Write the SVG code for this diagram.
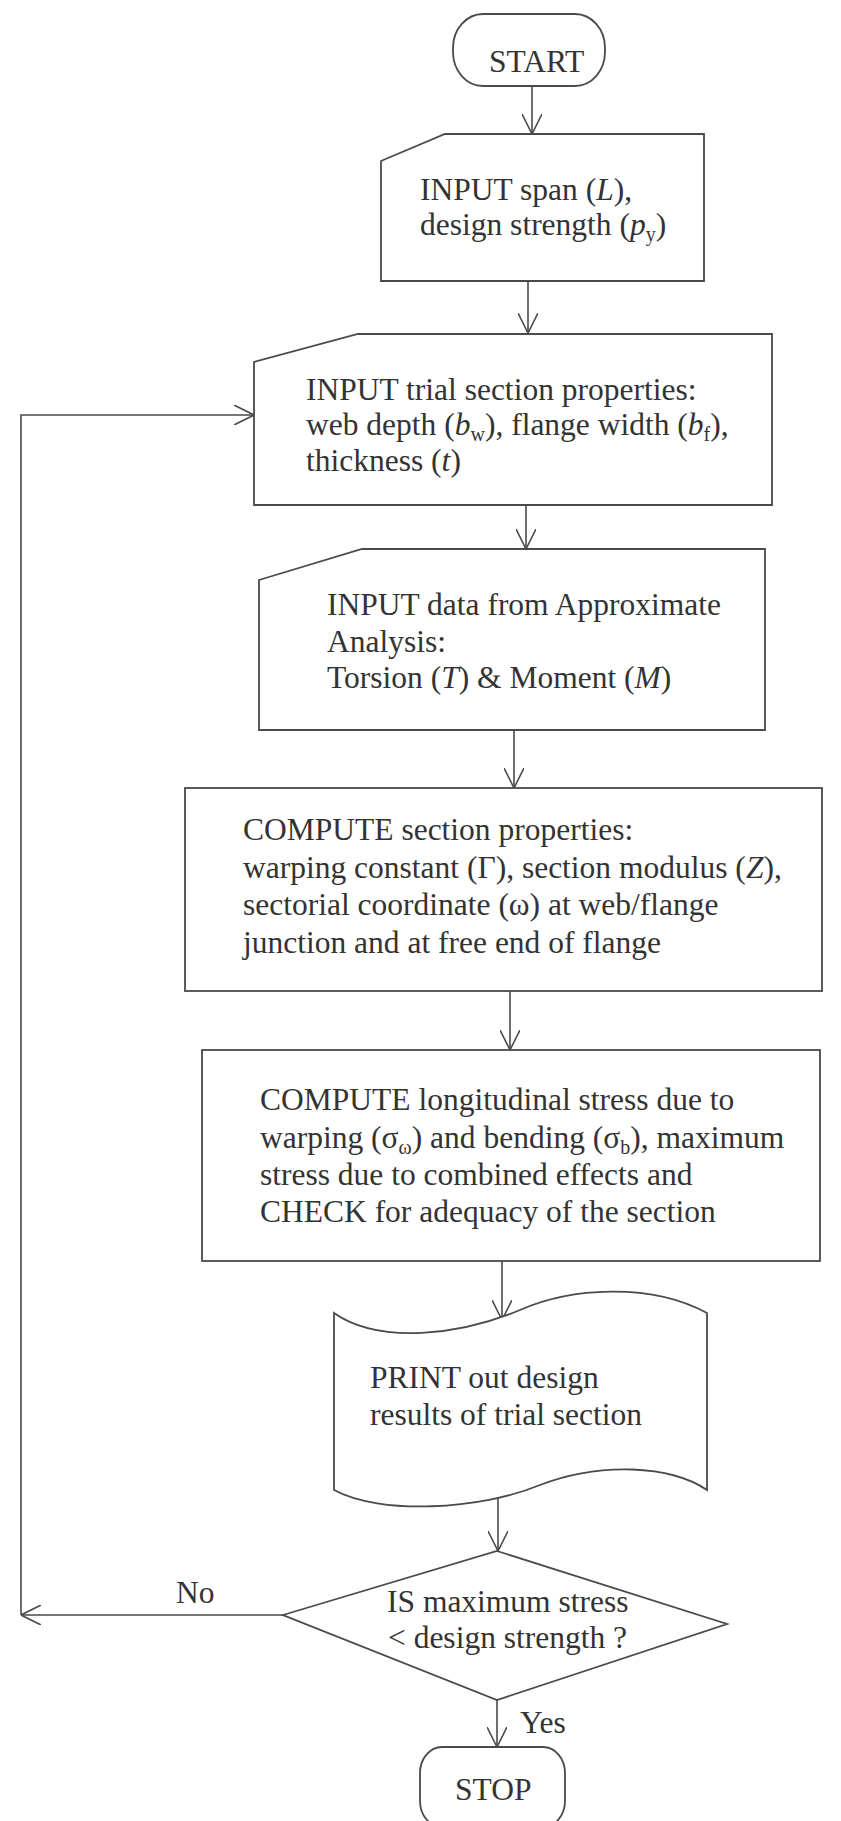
<svg xmlns="http://www.w3.org/2000/svg" width="841" height="1821" viewBox="0 0 841 1821">
<style>
.shape{fill:#fff;stroke:#4a4a4a;stroke-width:1.8;stroke-linejoin:miter}
.edge{fill:none;stroke:#4a4a4a;stroke-width:1.6}
text{font-family:"Liberation Serif","Times New Roman",serif;font-size:31.5px;fill:#333}
.i{font-style:italic}
.sub{font-size:20px}
</style>
<defs>
<marker id="arr" viewBox="0 0 20 20" refX="20" refY="10" markerWidth="20" markerHeight="20" markerUnits="userSpaceOnUse" orient="auto">
<path d="M0,0 L20,10 L0,20" fill="none" stroke="#4a4a4a" stroke-width="1.6"/>
</marker>
</defs>
<rect x="0" y="0" width="841" height="1821" fill="#fff"/>

<g id="connectors">
<line class="edge" x1="532" y1="86" x2="532" y2="134" marker-end="url(#arr)"/>
<line class="edge" x1="528" y1="281" x2="528" y2="333" marker-end="url(#arr)"/>
<line class="edge" x1="526" y1="505" x2="526" y2="549" marker-end="url(#arr)"/>
<line class="edge" x1="514" y1="730" x2="514" y2="788" marker-end="url(#arr)"/>
<line class="edge" x1="510" y1="991" x2="510" y2="1050" marker-end="url(#arr)"/>
<line class="edge" x1="502" y1="1261" x2="502" y2="1320" marker-end="url(#arr)"/>
<line class="edge" x1="498" y1="1497" x2="498" y2="1551" marker-end="url(#arr)"/>
<line class="edge" x1="497" y1="1700" x2="497" y2="1747" marker-end="url(#arr)"/>
<line class="edge" x1="283" y1="1615" x2="21" y2="1615" marker-end="url(#arr)"/>
<polyline class="edge" points="21,1615 21,415 254,415" marker-end="url(#arr)"/>
<text x="176" y="1603">No</text>
<text x="520" y="1733">Yes</text>
</g>

<g id="start">
<rect class="shape" x="453" y="14" width="152" height="72" rx="30" ry="34"/>
<text x="489" y="72">START</text>
</g>

<g id="input-span">
<path class="shape" d="M381,161 L445,134 L704,134 L704,281 L381,281 Z"/>
<text x="420" y="200">INPUT span (<tspan class="i">L</tspan>),</text>
<text x="420" y="235">design strength (<tspan class="i">p</tspan><tspan class="sub" dy="6">y</tspan><tspan dy="-6">)</tspan></text>
</g>

<g id="input-section">
<path class="shape" d="M254,362 L358,334 L772,334 L772,505 L254,505 Z"/>
<text x="306" y="400">INPUT trial section properties:</text>
<text x="306" y="435">web depth (<tspan class="i">b</tspan><tspan class="sub" dy="6">w</tspan><tspan dy="-6">), flange width (</tspan><tspan class="i">b</tspan><tspan class="sub" dy="6">f</tspan><tspan dy="-6">),</tspan></text>
<text x="306" y="471">thickness (<tspan class="i">t</tspan>)</text>
</g>

<g id="input-analysis">
<path class="shape" d="M259,580 L362,549 L765,549 L765,730 L259,730 Z"/>
<text x="327" y="615">INPUT data from Approximate</text>
<text x="327" y="652">Analysis:</text>
<text x="327" y="688">Torsion (<tspan class="i">T</tspan>) &amp; Moment (<tspan class="i">M</tspan>)</text>
</g>

<g id="compute-properties">
<rect class="shape" x="185" y="788" width="637" height="203"/>
<text x="243" y="840">COMPUTE section properties:</text>
<text x="243" y="878">warping constant (Γ), section modulus (<tspan class="i">Z</tspan>),</text>
<text x="243" y="915">sectorial coordinate (ω) at web/flange</text>
<text x="243" y="953">junction and at free end of flange</text>
</g>

<g id="compute-stress">
<rect class="shape" x="202" y="1050" width="618" height="211"/>
<text x="260" y="1110">COMPUTE longitudinal stress due to</text>
<text x="260" y="1148">warping (σ<tspan class="sub" dy="6">ω</tspan><tspan dy="-6">) and bending (σ</tspan><tspan class="sub" dy="6">b</tspan><tspan dy="-6">), maximum</tspan></text>
<text x="260" y="1185">stress due to combined effects and</text>
<text x="260" y="1222">CHECK for adequacy of the section</text>
</g>

<g id="print">
<path class="shape" d="M334,1313 C380,1345 460,1335 520,1310 C570,1288 650,1282 707,1313 L707,1490 C670,1465 600,1462 540,1485 C480,1510 380,1515 334,1490 Z"/>
<text x="370" y="1388">PRINT out design</text>
<text x="370" y="1425">results of trial section</text>
</g>

<g id="decision">
<path class="shape" d="M497,1551 L727,1624 L497,1700 L283,1615 Z"/>
<text x="387" y="1612">IS maximum stress</text>
<text x="388" y="1648">&lt; design strength ?</text>
</g>

<g id="stop">
<rect class="shape" x="420" y="1747" width="145" height="80" rx="22" ry="26"/>
<text x="455" y="1800">STOP</text>
</g>
</svg>
